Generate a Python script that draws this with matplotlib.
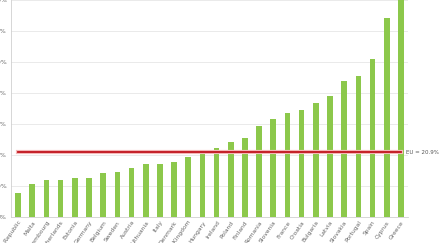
import matplotlib.pyplot as plt
import numpy as np

countries = ['Czech Republic', 'Malta', 'Luxembourg', 'Netherlands', 'Estonia', 'Germany',
             'Belgium', 'Sweden', 'Austria', 'Lithuania', 'Italy', 'Denmark',
             'United Kingdom', 'Hungary', 'Ireland', 'Poland', 'Finland', 'Romania',
             'Slovenia', 'France', 'Croatia', 'Bulgaria', 'Latvia', 'Slovakia',
             'Portugal', 'Spain', 'Cyprus', 'Greece']
values = [7.9, 10.8, 11.9, 12.0, 12.5, 12.5, 14.1, 14.4, 15.7, 17.0, 17.2, 17.8,
          19.3, 20.9, 22.4, 24.1, 25.6, 29.4, 31.6, 33.4, 34.4, 36.8, 38.9, 43.8,
          45.4, 51.0, 64.1, 72.0]
eu_value = 20.9
y_ticks = [0, 10, 20, 30, 40, 50, 60, 70]

fig = plt.figure(figsize=(4.4, 2.43), dpi=100)
ax = fig.add_axes([11 / 440, 26 / 243, 397 / 440, 217 / 243])

x = np.arange(len(countries))
ax.bar(x, values, width=0.4, color='#8cc84b', zorder=2)

# EU average line
ax.plot([x[0], x[-1]], [eu_value, eu_value], color='#f4b8b8', lw=3.0, zorder=3)
ax.plot([x[0], x[-1]], [eu_value, eu_value], color='#c0141c', lw=1.3, zorder=4)
ax.text(x[-1] + 0.35, eu_value, 'EU = 20.9%', fontsize=4.0, color='#555555',
        va='center', ha='left', clip_on=False)

ax.set_xlim(-0.5, len(countries) - 0.5)
ax.set_ylim(0, 70)
ax.set_yticks(y_ticks)
ax.set_yticklabels([f'{t}%' for t in y_ticks], fontsize=4.5, color='#666666')
ax.yaxis.grid(True, color='#e6e6e6', lw=0.6, zorder=0)
ax.tick_params(axis='y', length=0, pad=3)

ax.set_xticks(x)
ax.set_xticklabels(countries, rotation=55, ha='right', rotation_mode='anchor',
                   fontsize=4.3, color='#666666')
ax.tick_params(axis='x', length=0, pad=2)

for s in ['top', 'right']:
    ax.spines[s].set_visible(False)
ax.spines['left'].set_color('#d0d0d0')
ax.spines['left'].set_linewidth(0.6)
ax.spines['bottom'].set_color('#d0d0d0')
ax.spines['bottom'].set_linewidth(0.6)

fig.savefig('out.png', dpi=100)
